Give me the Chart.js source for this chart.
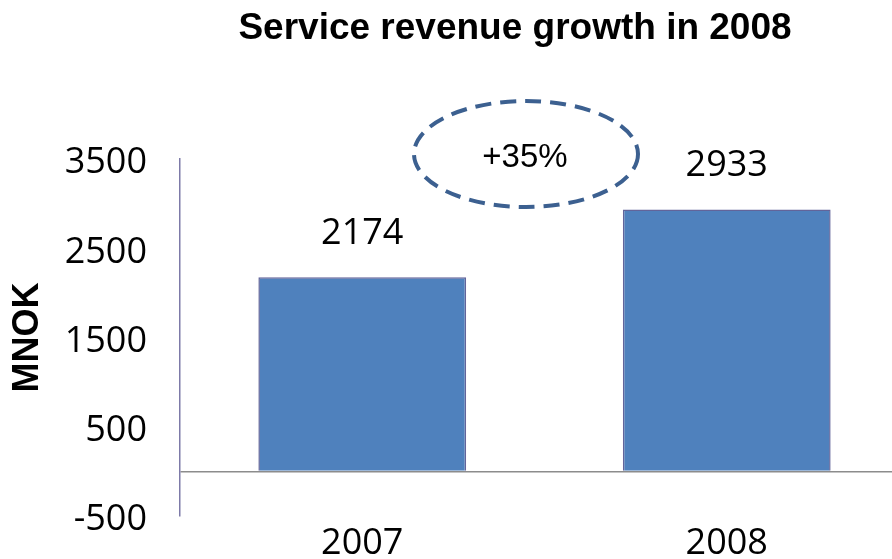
<!DOCTYPE html>
<html>
<head>
<meta charset="utf-8">
<script src="https://cdn.jsdelivr.net/npm/chart.js@4/dist/chart.umd.min.js"></script>
<style>
  html, body { margin: 0; padding: 0; background: #fff; overflow: hidden; }
  #wrap { width: 909px; height: 559px; }
</style>
</head>
<body>
<div id="wrap"><canvas id="myChart"></canvas></div>
<script>
// Chart data
const chartTitle = "Service revenue growth in 2008";
const years = ["2007", "2008"];
const revenue = [2174, 2933];
const yTickValues = [-500, 0, 500, 1500, 2500, 3500];
const yTickLabels = ["-500", "", "500", "1500", "2500", "3500"];

const labelFont = "'Open Sans', sans-serif";
const arialFont = "'Liberation Sans', Arial, sans-serif";

// title, value labels above bars + dashed growth bubble
const annotations = {
  id: "annotations",
  afterDatasetsDraw(chart) {
    const ctx = chart.ctx;
    const bars = chart.getDatasetMeta(0).data;
    ctx.save();
    ctx.fillStyle = "#000";
    ctx.textAlign = "center";
    ctx.textBaseline = "middle";

    ctx.font = "bold 37px " + arialFont;
    ctx.fillText(chartTitle, 515, 29);

    ctx.font = "36px " + labelFont;
    bars.forEach((bar, i) => {
      ctx.fillText(String(revenue[i]), bar.x, bar.y - 44);
    });

    // growth ellipse
    const growth = Math.round((revenue[1] / revenue[0] - 1) * 100);
    ctx.beginPath();
    ctx.ellipse(526, 154, 112, 53, 0, 0, Math.PI * 2);
    ctx.setLineDash([16, 9]);
    ctx.lineWidth = 4;
    ctx.strokeStyle = "#3c6090";
    ctx.stroke();
    ctx.setLineDash([]);
    ctx.font = "33px " + arialFont;
    ctx.fillText("+" + growth + "%", 525, 158);
    ctx.restore();
  }
};

const data = {
  labels: years,
  datasets: [
    {
      label: "Service revenue",
      data: revenue,
      backgroundColor: "#4f81bd",
      borderColor: "#62649a",
      borderWidth: 1.5,
      barPercentage: 0.57,
      categoryPercentage: 1,
    },
  ],
};

const config = {
  type: "bar",
  data: data,
  options: {
    responsive: true,
    maintainAspectRatio: false,
    animation: false,
    layout: { padding: { top: 159, left: 0, right: 0, bottom: 0 } },
    plugins: {
      legend: { display: false },
      tooltip: { enabled: false },
      title: { display: false },
    },
    scales: {
      x: {
        grid: { display: false, drawTicks: false },
        border: { display: false },
        ticks: {
          color: "#000",
          font: { family: labelFont, size: 36 },
          padding: 6,
        },
        afterFit(scale) { scale.height = 43; },
      },
      y: {
        min: -500,
        max: 3500,
        afterBuildTicks(scale) {
          scale.ticks = yTickValues.map(v => ({ value: v }));
        },
        grid: {
          drawTicks: false,
          color: ctx => (ctx.tick && ctx.tick.value === 0 ? "#8c8c8c" : "rgba(0,0,0,0)"),
          lineWidth: 1.5,
        },
        border: { display: true, color: "#7d7aa8", width: 1.5 },
        ticks: {
          color: "#000",
          font: { family: labelFont, size: 36 },
          padding: 33,
          labelOffset: 4,
          autoSkip: false,
          callback: (value) => {
            const i = yTickValues.indexOf(value);
            return i >= 0 ? yTickLabels[i] : "";
          },
        },
        title: {
          display: true,
          text: "MNOK",
          color: "#000",
          font: { family: arialFont, size: 36, weight: "bold" },
          padding: { top: 6, bottom: 0 },
        },
        afterFit(scale) {
          scale.width = 180;
          scale.paddingTop = 0;
          scale.paddingBottom = 0;
        },
      },
    },
  },
  plugins: [annotations],
};

const myChart = new Chart(document.getElementById("myChart"), config);
</script>
</body>
</html>
